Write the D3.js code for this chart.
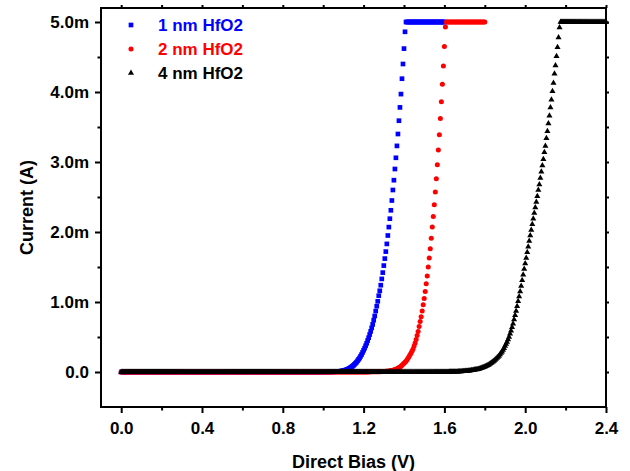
<!DOCTYPE html>
<html>
<head>
<meta charset="utf-8">
<script src="https://cdn.jsdelivr.net/npm/d3@7"></script>
<style>
  body { margin: 0; background: #fff; }
  svg { display: block; font-family: "Liberation Sans", Arial, Helvetica, sans-serif; font-weight: bold; }
</style>
</head>
<body>
<div id="chart"></div>
<script>
// bias sweep: every series starts at 0 V, one reading per step
const biasStep = 0.005;

// current in mA (instrument compliance = 5 mA)
const current1nm = [
    // 0.000 - 0.995 V
    0,0,0,0,0, 0,0,0,0,0, 0,0,0,0,0, 0,0,0,0,0,
    0,0,0,0,0, 0,0,0,0,0, 0,0,0,0,0, 0,0,0,0,0,
    0,0,0,0,0, 0,0,0,0,0, 0,0,0,0,0, 0,0,0,0,0,
    0,0,0,0,0, 0,0,0,0,0, 0,0,0,0,0, 0,0,0,0,0,
    0,0,0,0,0, 0,0,0,0,0, 0,0,0,0,0, 0,0,0,0,0,
    0,0,0,0,0, 0,0,0,0,0, 0,0,0,0,0, 0,0,0,0,0,
    0,0,0,0,0, 0,0,0,0,0, 0,0,0,0,0, 0,0,0,0,0,
    0,0,0,0,0, 0,0,0,0,0, 0,0,0,0,0, 0,0,0,0,0,
    0,0,0,0,0, 0,0,0,0,0, 0,0,0,0,0, 0,0,0,0,0,
    0,0,0,0,0, 0,0,0,0,0, 0,0,0,0,0, 0,0,0,0,0,
    // 1.000 V ->
    0.001, 0.001, 0.001, 0.001, 0.001, 0.0015, 0.002, 0.002, 0.002, 0.0025,
    0.003, 0.0035, 0.004, 0.005, 0.006, 0.0075, 0.009, 0.011, 0.013, 0.016,
    0.019, 0.023, 0.027, 0.032, 0.038, 0.045, 0.053, 0.062, 0.072, 0.083,
    0.095, 0.11, 0.125, 0.14, 0.16, 0.18, 0.20, 0.225, 0.25, 0.28,
    0.31, 0.34, 0.375, 0.41, 0.45, 0.49, 0.535, 0.58, 0.63, 0.68,
    0.74, 0.80, 0.87, 0.94, 1.01, 1.09, 1.16, 1.24, 1.33, 1.42,
    1.52, 1.62, 1.72, 1.83, 1.95, 2.07, 2.19, 2.31, 2.45, 2.60,
    2.74, 2.90, 3.06, 3.23, 3.40, 3.59, 3.78, 3.97, 4.19, 4.40,
    4.62, 4.86,
    // 1.410 - 1.600 V
    5,5,5,5,5, 5,5,5,5,5, 5,5,5,5,5, 5,5,5,5,5,
    5,5,5,5,5, 5,5,5,5,5, 5,5,5,5,5, 5,5,5,5
];

const current2nm = [
    // 0.000 - 1.195 V
    0,0,0,0,0, 0,0,0,0,0, 0,0,0,0,0, 0,0,0,0,0,
    0,0,0,0,0, 0,0,0,0,0, 0,0,0,0,0, 0,0,0,0,0,
    0,0,0,0,0, 0,0,0,0,0, 0,0,0,0,0, 0,0,0,0,0,
    0,0,0,0,0, 0,0,0,0,0, 0,0,0,0,0, 0,0,0,0,0,
    0,0,0,0,0, 0,0,0,0,0, 0,0,0,0,0, 0,0,0,0,0,
    0,0,0,0,0, 0,0,0,0,0, 0,0,0,0,0, 0,0,0,0,0,
    0,0,0,0,0, 0,0,0,0,0, 0,0,0,0,0, 0,0,0,0,0,
    0,0,0,0,0, 0,0,0,0,0, 0,0,0,0,0, 0,0,0,0,0,
    0,0,0,0,0, 0,0,0,0,0, 0,0,0,0,0, 0,0,0,0,0,
    0,0,0,0,0, 0,0,0,0,0, 0,0,0,0,0, 0,0,0,0,0,
    0,0,0,0,0, 0,0,0,0,0, 0,0,0,0,0, 0,0,0,0,0,
    0,0,0,0,0, 0,0,0,0,0, 0,0,0,0,0, 0,0,0,0,0,
    // 1.200 V ->
    0.001, 0.001, 0.001, 0.0015, 0.0015, 0.002, 0.002, 0.002, 0.0025, 0.0025,
    0.003, 0.003, 0.0035, 0.004, 0.004, 0.0045, 0.005, 0.0055, 0.006, 0.0065,
    0.007, 0.008, 0.009, 0.010, 0.012, 0.014, 0.016, 0.018, 0.022, 0.025,
    0.030, 0.034, 0.040, 0.047, 0.054, 0.063, 0.072, 0.083, 0.095, 0.11,
    0.125, 0.14, 0.155, 0.175, 0.195, 0.22, 0.245, 0.27, 0.30, 0.33,
    0.37, 0.415, 0.465, 0.52, 0.58, 0.65, 0.72, 0.79, 0.87, 0.96,
    1.05, 1.15, 1.26, 1.37, 1.50, 1.63, 1.76, 1.91, 2.07, 2.22,
    2.39, 2.57, 2.76, 2.96, 3.17, 3.39, 3.62, 3.86, 4.11, 4.37,
    4.65, 4.93,
    // 1.610 - 1.800 V
    5,5,5,5,5, 5,5,5,5,5, 5,5,5,5,5, 5,5,5,5,5,
    5,5,5,5,5, 5,5,5,5,5, 5,5,5,5,5, 5,5,5,5
];

const current4nm = [
    // 0.000 - 1.595 V
    0,0,0,0,0, 0,0,0,0,0, 0,0,0,0,0, 0,0,0,0,0,
    0,0,0,0,0, 0,0,0,0,0, 0,0,0,0,0, 0,0,0,0,0,
    0,0,0,0,0, 0,0,0,0,0, 0,0,0,0,0, 0,0,0,0,0,
    0,0,0,0,0, 0,0,0,0,0, 0,0,0,0,0, 0,0,0,0,0,
    0,0,0,0,0, 0,0,0,0,0, 0,0,0,0,0, 0,0,0,0,0,
    0,0,0,0,0, 0,0,0,0,0, 0,0,0,0,0, 0,0,0,0,0,
    0,0,0,0,0, 0,0,0,0,0, 0,0,0,0,0, 0,0,0,0,0,
    0,0,0,0,0, 0,0,0,0,0, 0,0,0,0,0, 0,0,0,0,0,
    0,0,0,0,0, 0,0,0,0,0, 0,0,0,0,0, 0,0,0,0,0,
    0,0,0,0,0, 0,0,0,0,0, 0,0,0,0,0, 0,0,0,0,0,
    0,0,0,0,0, 0,0,0,0,0, 0,0,0,0,0, 0,0,0,0,0,
    0,0,0,0,0, 0,0,0,0,0, 0,0,0,0,0, 0,0,0,0,0,
    0,0,0,0,0, 0,0,0,0,0, 0,0,0,0,0, 0,0,0,0,0,
    0,0,0,0,0, 0,0,0,0,0, 0,0,0,0,0, 0,0,0,0,0,
    0,0,0,0,0, 0,0,0,0,0, 0,0,0,0,0, 0,0,0,0,0,
    0,0,0,0,0, 0,0,0,0,0, 0,0,0,0,0, 0,0,0,0,0,
    // 1.600 V ->
    0.001, 0.001, 0.0012, 0.0014, 0.0016, 0.002, 0.0022, 0.0025, 0.003, 0.0033,
    0.0037, 0.004, 0.0045, 0.005, 0.0055, 0.006, 0.007, 0.008, 0.009, 0.010,
    0.011, 0.0125, 0.014, 0.0155, 0.017, 0.019, 0.021, 0.0235, 0.026, 0.0285,
    0.031, 0.034, 0.037, 0.040, 0.044, 0.048, 0.053, 0.058, 0.063, 0.069,
    0.075, 0.082, 0.089, 0.097, 0.105, 0.114, 0.124, 0.134, 0.145, 0.157,
    0.17, 0.185, 0.20, 0.215, 0.23, 0.25, 0.27, 0.29, 0.315, 0.34,
    0.37, 0.40, 0.43, 0.465, 0.50, 0.545, 0.59, 0.64, 0.69, 0.75,
    0.81, 0.87, 0.94, 1.01, 1.08, 1.15, 1.23, 1.31, 1.39, 1.47,
    1.55, 1.63, 1.71, 1.79, 1.87, 1.95, 2.03, 2.11, 2.19, 2.27,
    2.35, 2.43, 2.51, 2.60, 2.68, 2.77, 2.86, 2.95, 3.04, 3.14,
    3.23, 3.34, 3.44, 3.55, 3.66, 3.78, 3.89, 4.01, 4.13, 4.26,
    4.38, 4.51, 4.64, 4.78, 4.92,
    // 2.175 - 2.400 V
    5,5,5,5,5, 5,5,5,5,5, 5,5,5,5,5, 5,5,5,5,5,
    5,5,5,5,5, 5,5,5,5,5, 5,5,5,5,5, 5,5,5,5,5,
    5,5,5,5,5, 5
];

const seriesNames = ["1 nm HfO2", "2 nm HfO2", "4 nm HfO2"];
const seriesColors = ["#0000ff", "#ff0000", "#000000"];

const xTicks = [0, 0.4, 0.8, 1.2, 1.6, 2.0, 2.4];
const xTickLabels = ["0.0", "0.4", "0.8", "1.2", "1.6", "2.0", "2.4"];
const xMinorTicks = [0.2, 0.6, 1.0, 1.4, 1.8, 2.2];
const yTicks = [0, 1, 2, 3, 4, 5];
const yTickLabels = ["0.0", "1.0m", "2.0m", "3.0m", "4.0m", "5.0m"];
const yMinorTicks = [0.5, 1.5, 2.5, 3.5, 4.5];

const xTitle = "Direct Bias (V)";
const yTitle = "Current (A)";

const width = 630;
const height = 471;

const svg = d3.select("#chart")
    .append("svg")
    .attr("width", width)
    .attr("height", height);

const x = d3.scaleLinear().domain([-0.1, 2.4]).range([101, 606]);
const y = d3.scaleLinear().domain([-0.5, 5.2]).range([407, 8]);

const plotLeft = x.range()[0], plotRight = x.range()[1];
const plotTop = y.range()[1], plotBottom = y.range()[0];

function styleAxis(g) {
    g.select(".domain").remove();
    g.selectAll(".tick line").attr("stroke", "#000").attr("stroke-width", 2);
    g.selectAll(".tick text")
        .attr("fill", "#000")
        .style("font-size", "17px")
        .style("font-family", "'Liberation Sans', Arial, sans-serif")
        .style("font-weight", "bold");
}

// bottom + left, major and minor
svg.append("g")
    .attr("transform", `translate(0,${plotBottom})`)
    .call(d3.axisBottom(x).tickValues(xTicks).tickSize(6).tickPadding(9)
        .tickFormat((d, i) => xTickLabels[i]))
    .call(styleAxis);
svg.append("g")
    .attr("transform", `translate(0,${plotBottom})`)
    .call(d3.axisBottom(x).tickValues(xMinorTicks).tickSize(3.5).tickFormat(""))
    .call(styleAxis);
svg.append("g")
    .attr("transform", `translate(${plotLeft},0)`)
    .call(d3.axisLeft(y).tickValues(yTicks).tickSize(6).tickPadding(6)
        .tickFormat((d, i) => yTickLabels[i]))
    .call(styleAxis);
svg.append("g")
    .attr("transform", `translate(${plotLeft},0)`)
    .call(d3.axisLeft(y).tickValues(yMinorTicks).tickSize(3.5).tickFormat(""))
    .call(styleAxis);

// mirrored ticks on top + right
svg.append("g")
    .attr("transform", `translate(0,${plotTop})`)
    .call(d3.axisTop(x).tickValues(xTicks.concat(xMinorTicks)).tickSize(3).tickFormat(""))
    .call(styleAxis);
svg.append("g")
    .attr("transform", `translate(${plotRight},0)`)
    .call(d3.axisRight(y).tickValues(yTicks.concat(yMinorTicks)).tickSize(3).tickFormat(""))
    .call(styleAxis);

// frame
svg.append("rect")
    .attr("x", plotLeft)
    .attr("y", plotTop)
    .attr("width", plotRight - plotLeft)
    .attr("height", plotBottom - plotTop)
    .attr("fill", "none")
    .attr("stroke", "#000")
    .attr("stroke-width", 2);

// axis titles
svg.append("text")
    .attr("x", (plotLeft + plotRight) / 2)
    .attr("y", 468)
    .attr("text-anchor", "middle")
    .style("font-size", "18px")
    .text(xTitle);

svg.append("text")
    .attr("transform", `translate(33,${(plotTop + plotBottom) / 2}) rotate(-90)`)
    .attr("text-anchor", "middle")
    .style("font-size", "18px")
    .text(yTitle);

// scatter series
const symbols = [
    d3.symbol().type(d3.symbolSquare).size(22),
    d3.symbol().type(d3.symbolCircle).size(20),
    d3.symbol().type(d3.symbolTriangle).size(16)
];
const allSeries = [current1nm, current2nm, current4nm];

allSeries.forEach((currents, s) => {
    svg.append("g")
        .selectAll("path")
        .data(currents.map((c, i) => ({v: i * biasStep, c: c})))
        .enter()
        .append("path")
        .attr("d", symbols[s])
        .attr("transform", d => `translate(${x(d.v)},${y(d.c)})`)
        .attr("fill", seriesColors[s]);
});

// legend
const legend = svg.append("g");
seriesNames.forEach((name, s) => {
    const ly = 25 + s * 24;
    legend.append("path")
        .attr("d", symbols[s])
        .attr("transform", `translate(131,${ly})`)
        .attr("fill", seriesColors[s]);
    legend.append("text")
        .attr("x", 158)
        .attr("y", ly)
        .attr("dy", "0.36em")
        .attr("fill", seriesColors[s])
        .style("font-size", "17px")
        .text(name);
});
</script>
</body>
</html>
